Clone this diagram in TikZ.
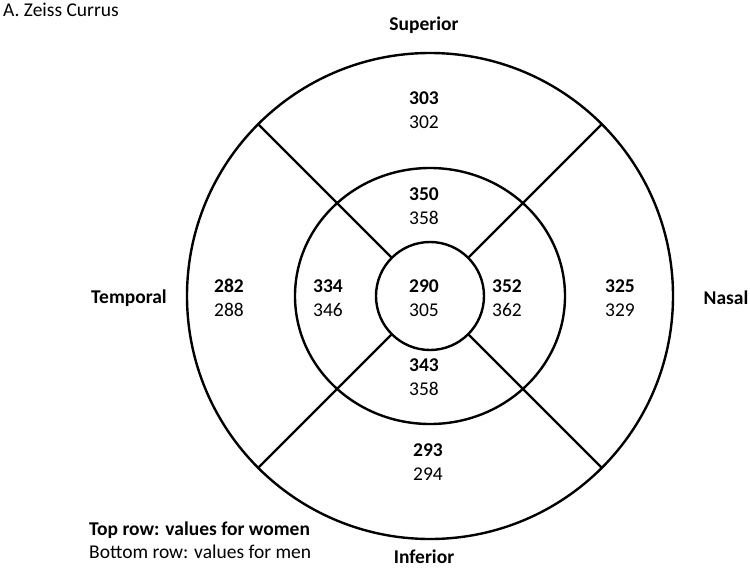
\documentclass[tikz,border=0pt]{standalone}
\usepackage{fontspec}
\setmainfont{Carlito}
\usetikzlibrary{calc}
\begin{document}
\begin{tikzpicture}[x=1pt, y=-1pt, line width=2.4pt,
    every node/.style={font=\fontsize{19.5}{24}\selectfont, inner sep=0pt},
    side/.style={font=\fontsize{19.5}{24}\selectfont\bfseries},
    vals/.style={align=center}]
    \useasboundingbox (0,0) rectangle (750,573);
    \coordinate (c) at (430,296);
    % rings
    \draw (c) circle (243);
    \draw (c) ellipse (135 and 128);
    \draw (c) circle (54);
    % sector dividers
    \foreach \a in {45,135,225,315}
        \draw ($(c)+(\a:243)$) -- ($(c)+(\a:54)$);
    % side labels
    \node[anchor=west] (title) at (2,10) {A. Zeiss Currus};
    \node[side] (sup) at (424,25) {Superior};
    \node[side] (temp) at (129,298) {Temporal};
    \node[side] (nas) at (726,298) {Nasal};
    \node[side] (inf) at (424,557) {Inferior};
    % thickness values
    \foreach \x/\y/\w/\m/\n in {424/110/303/302/os, 424/206/350/358/is,
        229/298/282/288/ot, 328/298/334/346/it, 424/298/290/305/ctr,
        507/298/352/362/in, 620/298/325/329/on, 424/377/343/358/ii,
        428/462/293/294/oi}
        \node[vals] (\n) at (\x,\y) {\textbf{\w}\\\m};
    % legend
    \node[anchor=west, align=left, font=\fontsize{19.5}{23}\selectfont] (key) at (88,540)
        {\textbf{Top row: values for women}\\Bottom row: values for men};
\end{tikzpicture}
\end{document}
